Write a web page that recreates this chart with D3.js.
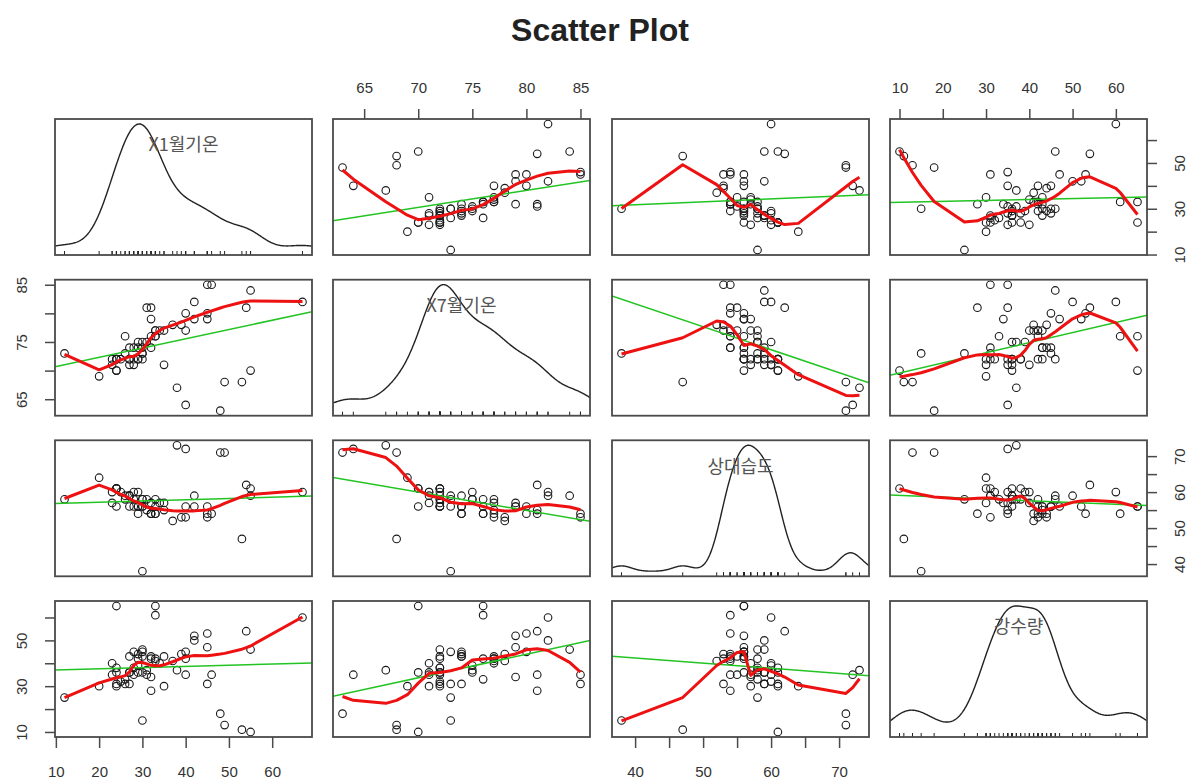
<!DOCTYPE html>
<html><head><meta charset="utf-8">
<script src="https://cdn.jsdelivr.net/npm/d3@7"></script>
<style>body{margin:0;background:#fff}svg{display:block}</style>
</head><body>
<svg id="chart" width="1203" height="780"></svg>
<script>
// ---------------- data ----------------
const chartTitle = "Scatter Plot";
const varNames = ["X1월기온", "X7월기온", "상대습도", "강수량"];
const janTemp = [27,23,29,45,35,45,30,30,24,27,42,26,34,28,31,46,30,30,27,24,45,24,40,27,55,29,31,32,53,35,42,67,20,12,40,30,54,33,32,29,38,29,33,39,25,32,55,48,49,40,28,24,26,23,37,32,33,24,33,28];
const julTemp = [71,72,74,79,77,80,74,73,70,72,79,76,77,71,75,85,75,73,74,72,85,72,77,72,84,75,81,74,68,71,82,82,69,73,80,72,81,77,76,72,67,72,77,78,72,79,70,63,68,64,74,72,73,71,78,81,76,70,76,72];
const humidity = [59,57,54,56,55,54,56,56,61,59,56,58,57,60,58,54,58,38,59,61,53,61,53,56,59,60,55,54,47,57,59,60,64,58,56,58,62,58,54,56,73,56,54,53,60,57,61,71,71,72,56,61,59,60,52,54,56,56,54,58];
const rain = [36,35,44,47,43,53,43,45,36,36,52,33,40,35,37,35,36,15,31,30,31,31,42,43,46,39,35,43,11,30,50,60,30,25,45,46,54,42,42,36,37,42,41,44,32,34,10,18,13,35,45,38,31,40,41,28,65,65,61,38];

const janTicks = [10,20,30,40,50,60];
const julTicks = [65,70,75,80,85];
const humTicks = [40,45,50,55,60,65,70];
const rainTicks = [10,20,30,40,50,60];
const janSideLabels = [10,30,50];
const julSideLabels = [65,75,85];
const humLabels = [40,50,60,70];

// ---------------- layout ----------------
const vars = [janTemp, julTemp, humidity, rain];
const colX = [55, 333, 612, 890], panelW = 257;
const rowY = [119, 279.7, 440.3, 601], panelH = 136;
const svg = d3.select("#chart");
const FONT = "'Liberation Sans', Arial, sans-serif";

function padDomain(v){ const e = d3.extent(v); const r = e[1]-e[0]; return [e[0]-0.04*r, e[1]+0.04*r]; }
const domains = vars.map(padDomain);
const xs = domains.map((d,j)=>d3.scaleLinear().domain(d).range([colX[j], colX[j]+panelW]));
const ys = domains.map((d,i)=>d3.scaleLinear().domain(d).range([rowY[i]+panelH, rowY[i]]));

// ---------------- stats helpers (loess smoother, lm, density) ----------------
function solve(A, b){
  const m = b.length, M = A.map((r,i)=>[...r, b[i]]);
  for (let c=0;c<m;c++){
    let p = c; for (let r=c+1;r<m;r++) if (Math.abs(M[r][c])>Math.abs(M[p][c])) p=r;
    if (Math.abs(M[p][c]) < 1e-10) return null;
    [M[c],M[p]] = [M[p],M[c]];
    for (let r=0;r<m;r++){ if (r===c) continue; const f=M[r][c]/M[c][c]; for (let k=c;k<=m;k++) M[r][k]-=f*M[c][k]; }
  }
  return M.map((r,i)=>r[m]/r[i]);
}
function localFit(x, y, x0, q, degree, rw){
  const d = x.map(v=>Math.abs(v-x0));
  const h = d.slice().sort((a,b)=>a-b)[q-1] || 1e-9;
  for (let deg=degree; deg>=0; deg--){
    const p = deg+1;
    const A = d3.range(p).map(()=>new Array(p).fill(0)), B = new Array(p).fill(0);
    let sw = 0;
    x.forEach((v,i)=>{
      if (d[i] >= h) return;
      const w = Math.pow(1-Math.pow(d[i]/h,3),3)*rw[i];
      if (w<=0) return;
      sw += w;
      const u = v-x0, bas = [1,u,u*u].slice(0,p);
      for (let a=0;a<p;a++){ B[a]+=w*bas[a]*y[i]; for (let c=0;c<p;c++) A[a][c]+=w*bas[a]*bas[c]; }
    });
    if (sw<=0) continue;
    const s = solve(A,B);
    if (s) return [s[0], p>1 ? s[1] : 0];
  }
  return [d3.mean(y), 0];
}
function kdVertices(x, fc){
  const s = x.slice().sort((a,b)=>a-b), n = s.length;
  const mu = 0.005*Math.max(s[n-1]-s[0], 1e-10*Math.max(Math.abs(s[0]),Math.abs(s[n-1]))+1e-30);
  const verts = [s[0]-mu, s[n-1]+mu];
  function rec(l, u, vlo, vhi){
    if (u-l+1 <= fc) return;
    let m = Math.floor((l+u)/2), off = 0;
    for(;;){
      if (m+off >= u || m+off < l) break;
      if (s[m+off] === s[m+off+1]){ off = -off; if (off >= 0) off += 1; }
      else { m = m+off; break; }
    }
    if (s[m] === vlo || s[m] === vhi) return;
    const t = s[m];
    verts.push(t);
    rec(l, m, vlo, t); rec(m+1, u, t, vhi);
  }
  rec(0, n-1, verts[0], verts[1]);
  return Array.from(new Set(verts)).sort((a,b)=>a-b);
}
function loess(x, y, span=0.5, degree=2, iterations=4){
  const n = x.length, q = Math.floor(n*span+1e-5), fc = Math.floor(n*span*0.2);
  const V = kdVertices(x, fc);
  const surface = rw => {
    const vv = V.map(v=>localFit(x,y,v,q,degree,rw));
    return xq => {
      let k = d3.bisectRight(V, xq)-1; k = Math.max(0, Math.min(V.length-2, k));
      const h = V[k+1]-V[k], t = (xq-V[k])/h;
      const p0=(1-t)*(1-t)*(1+2*t), p1=t*t*(3-2*t), s0=t*(1-t)*(1-t), s1=-t*t*(1-t);
      return p0*vv[k][0] + p1*vv[k+1][0] + (s0*vv[k][1] + s1*vv[k+1][1])*h;
    };
  };
  let rw = new Array(n).fill(1);
  for (let it=1; it<iterations; it++){
    const f = surface(rw);
    const res = y.map((v,i)=>Math.abs(v-f(x[i])));
    const s = res.slice().sort((a,b)=>a-b);
    const cmad = 3*(s[Math.floor(n/2)]+s[Math.floor(n/2)-1]);
    const c9=0.999*cmad, c1=0.001*cmad;
    rw = res.map(r=> r<=c1 ? 1 : (r<=c9 ? Math.pow(1-Math.pow(r/cmad,2),2) : 0));
  }
  const f = surface(rw);
  const ux = Array.from(new Set(x)).sort((a,b)=>a-b);
  return ux.map(x0=>[x0, f(x0)]);
}
function linFit(x, y){
  const mx = d3.mean(x), my = d3.mean(y);
  let sxy=0, sxx=0;
  x.forEach((v,i)=>{ sxy += (v-mx)*(y[i]-my); sxx += (v-mx)*(v-mx); });
  const b = sxy/sxx; return {a: my-b*mx, b};
}
function density(v){
  const s = v.slice().sort((a,b)=>a-b), n = v.length;
  const iqr = d3.quantile(s,0.75)-d3.quantile(s,0.25);
  const bw = 0.9*Math.min(d3.deviation(v), iqr/1.34)*Math.pow(n,-0.2);
  const lo = s[0]-3*bw, hi = s[n-1]+3*bw;
  return d3.range(512).map(k=>{
    const gx = lo + (hi-lo)*k/511;
    let d = 0; for (const xv of v){ const z=(gx-xv)/bw; d += Math.exp(-0.5*z*z); }
    return [gx, d/(n*bw*Math.sqrt(2*Math.PI))];
  });
}

// ---------------- title ----------------
svg.append("text").attr("x", 600).attr("y", 41).attr("text-anchor","middle")
  .attr("font-family", FONT).attr("font-weight","bold").attr("font-size", 32).attr("fill","#222")
  .text(chartTitle);

const defs = svg.append("defs");

// ---------------- panels ----------------
for (let i=0;i<4;i++){
  for (let j=0;j<4;j++){
    const id = `clip${i}${j}`;
    defs.append("clipPath").attr("id", id).append("rect")
      .attr("x", colX[j]).attr("y", rowY[i]).attr("width", panelW).attr("height", panelH);
    const g = svg.append("g");
    const inner = g.append("g").attr("clip-path", `url(#${id})`);
    const X = xs[j], Y = ys[i];
    if (i === j){
      const v = vars[i];
      const dens = density(v);
      const ext = d3.extent(v), dext = d3.extent(dens, d=>d[1]);
      const yv = d => ext[0] + d*(ext[1]-ext[0])/(dext[1]-dext[0]);
      g.append("text").attr("x", colX[j]+panelW/2).attr("y", rowY[i]+26)
        .attr("dy","0.35em").attr("text-anchor","middle")
        .attr("font-family","'Noto Sans CJK KR', sans-serif").attr("font-size",18).attr("fill","#555")
        .text(varNames[i]);
      inner.append("path").datum(dens)
        .attr("d", d3.line().x(d=>X(d[0])).y(d=>Y(yv(d[1]))))
        .attr("fill","none").attr("stroke","#222").attr("stroke-width",1.4);
      inner.selectAll("line.rug").data(v).join("line")
        .attr("x1", d=>X(d)).attr("x2", d=>X(d))
        .attr("y1", rowY[i]+panelH).attr("y2", rowY[i]+panelH-4)
        .attr("stroke","#222").attr("stroke-width",1);
    } else {
      const xv = vars[j], yvv = vars[i];
      inner.selectAll("circle").data(xv.map((d,k)=>[d, yvv[k]])).join("circle")
        .attr("cx", d=>X(d[0])).attr("cy", d=>Y(d[1])).attr("r", 3.8)
        .attr("fill","none").attr("stroke","#1a1a1a").attr("stroke-width",1.1);
      const lf = linFit(xv, yvv);
      const dx = X.domain();
      inner.append("line")
        .attr("x1", X(dx[0])).attr("y1", Y(lf.a+lf.b*dx[0]))
        .attr("x2", X(dx[1])).attr("y2", Y(lf.a+lf.b*dx[1]))
        .attr("stroke","#22c422").attr("stroke-width",1.5);
      const sm = loess(xv, yvv, 0.5, 2, 4);
      inner.append("path").datum(sm)
        .attr("d", d3.line().x(d=>X(d[0])).y(d=>Y(d[1])))
        .attr("fill","none").attr("stroke","#ee1111").attr("stroke-width",3).attr("stroke-linejoin","round");
    }
    g.append("rect").attr("x", colX[j]).attr("y", rowY[i]).attr("width", panelW).attr("height", panelH)
      .attr("fill","none").attr("stroke","#4a4a4a").attr("stroke-width",1.8);
  }
}

// ---------------- axes ----------------
function styleAxis(a){
  a.select(".domain").remove();
  a.selectAll(".tick line").attr("stroke","#4a4a4a").attr("stroke-width",1.5);
  a.selectAll(".tick text").attr("font-family", FONT).attr("font-size",15).attr("fill","#333");
}
function fmt(labels){ return d => labels.includes(d) ? d : ""; }
[[1, julTicks, julTicks], [3, rainTicks, rainTicks]].forEach(([j, tv, lab])=>{
  const a = svg.append("g").attr("transform", `translate(0,${rowY[0]})`)
    .call(d3.axisTop(xs[j]).tickValues(tv).tickSize(10).tickFormat(fmt(lab)));
  styleAxis(a);
  a.selectAll(".tick text").attr("y", -31).attr("dy","0.35em");
});
[[0, janTicks, janTicks], [2, humTicks, humLabels]].forEach(([j, tv, lab])=>{
  const a = svg.append("g").attr("transform", `translate(0,${rowY[3]+panelH})`)
    .call(d3.axisBottom(xs[j]).tickValues(tv).tickSize(11).tickFormat(fmt(lab)));
  styleAxis(a);
  a.selectAll(".tick text").attr("y", 35).attr("dy","0.35em");
});
[[1, julTicks, julSideLabels], [3, rainTicks, janSideLabels]].forEach(([i, tv, lab])=>{
  const a = svg.append("g").attr("transform", `translate(${colX[0]},0)`)
    .call(d3.axisLeft(ys[i]).tickValues(tv).tickSize(10).tickFormat(fmt(lab)));
  styleAxis(a);
  a.selectAll(".tick text").attr("x", 0).attr("dy","0.35em").attr("text-anchor","middle")
    .attr("transform","translate(-33,0) rotate(-90)");
});
[[0, janTicks, janSideLabels], [2, humTicks, humLabels]].forEach(([i, tv, lab])=>{
  const a = svg.append("g").attr("transform", `translate(${colX[3]+panelW},0)`)
    .call(d3.axisRight(ys[i]).tickValues(tv).tickSize(10).tickFormat(fmt(lab)));
  styleAxis(a);
  a.selectAll(".tick text").attr("x", 0).attr("dy","0.35em").attr("text-anchor","middle")
    .attr("transform","translate(33,0) rotate(-90)");
});
</script>
</body></html>
